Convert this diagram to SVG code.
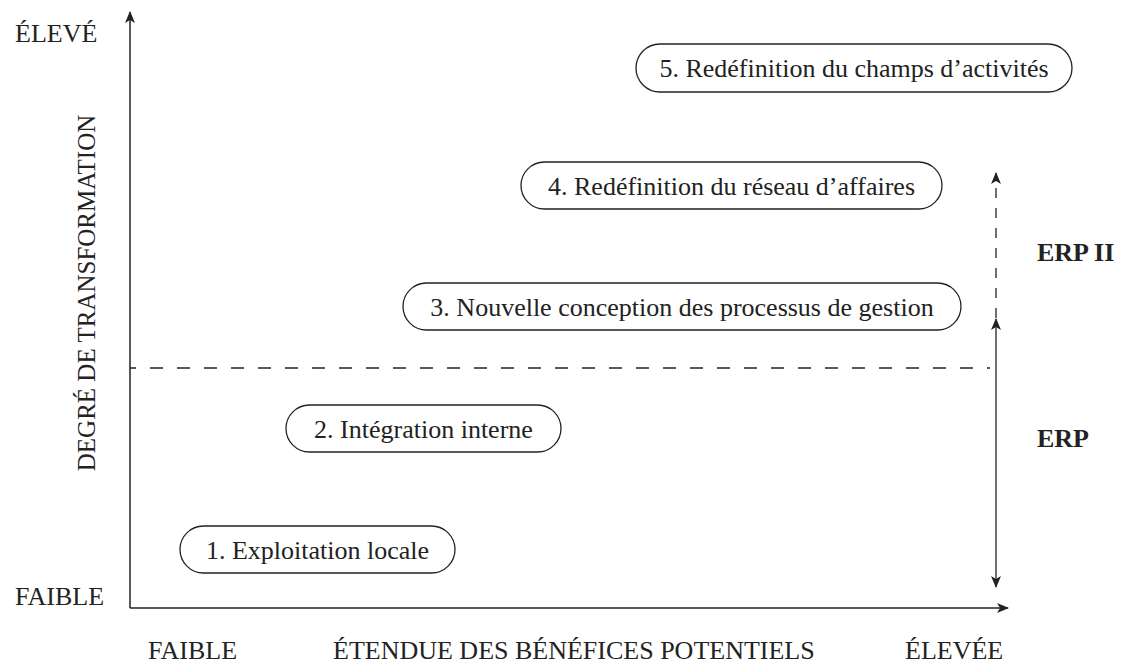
<svg xmlns="http://www.w3.org/2000/svg" width="1124" height="663" viewBox="0 0 1124 663">
<style>
text{font-family:"Liberation Serif","Times New Roman",serif;font-size:26px;fill:#222}
.b{font-weight:bold}
.box{fill:#fff;stroke:#222;stroke-width:1.3}
.ax{stroke:#222;stroke-width:1.5;fill:none}
.dash{stroke:#222;stroke-width:1.3;fill:none;stroke-dasharray:13 14;stroke-dashoffset:7}
.vdash{stroke:#222;stroke-width:1.3;fill:none;stroke-dasharray:10 10}
</style>
<defs>
<marker id="ah" viewBox="0 0 12 10" refX="11" refY="5" markerWidth="12" markerHeight="10" markerUnits="userSpaceOnUse" orient="auto-start-reverse">
<path d="M0,0 L12,5 L0,10 L3,5 Z" fill="#222"/>
</marker>
</defs>
<g id="connectors">
<line class="ax" x1="130" y1="608" x2="130" y2="12" marker-end="url(#ah)"/>
<line class="ax" x1="130" y1="608" x2="1008" y2="608" marker-end="url(#ah)"/>
<line class="dash" x1="130" y1="368" x2="990" y2="368"/>
<line class="vdash" x1="996" y1="318" x2="996" y2="173" marker-end="url(#ah)"/>
<line class="ax" x1="996" y1="319" x2="996" y2="587" marker-start="url(#ah)" marker-end="url(#ah)" style="stroke-width:1.3"/>
</g>
<g id="labels">
<text x="15" y="42">ÉLEVÉ</text>
<text x="15" y="605">FAIBLE</text>
<text transform="translate(95,293) rotate(-90)" text-anchor="middle" style="font-size:25px">DEGRÉ DE TRANSFORMATION</text>
<text x="148" y="659">FAIBLE</text>
<text x="333" y="659">ÉTENDUE DES BÉNÉFICES POTENTIELS</text>
<text x="905" y="659">ÉLEVÉE</text>
<text class="b" x="1037" y="261">ERP II</text>
<text class="b" x="1037" y="447">ERP</text>
</g>
<g id="n1"><rect class="box" x="180" y="526" width="275" height="47" rx="23.5"/><text x="317.5" y="558.5" text-anchor="middle">1. Exploitation locale</text></g>
<g id="n2"><rect class="box" x="286" y="405" width="275" height="47" rx="23.5"/><text x="423.5" y="437.5" text-anchor="middle">2. Intégration interne</text></g>
<g id="n3"><rect class="box" x="403" y="283" width="558" height="47" rx="23.5"/><text x="682" y="315.5" text-anchor="middle">3. Nouvelle conception des processus de gestion</text></g>
<g id="n4"><rect class="box" x="521" y="162" width="421" height="47" rx="23.5"/><text x="731.5" y="194.5" text-anchor="middle">4. Redéfinition du réseau d’affaires</text></g>
<g id="n5"><rect class="box" x="636" y="44" width="436" height="48" rx="24"/><text x="854" y="76.5" text-anchor="middle">5. Redéfinition du champs d’activités</text></g>
</svg>
